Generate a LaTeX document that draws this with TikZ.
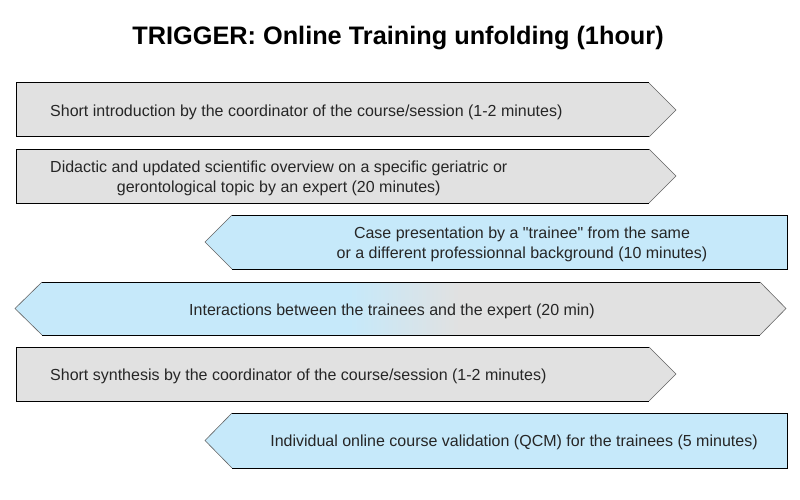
\documentclass[tikz,border=0pt]{standalone}
\usepackage{fontspec}
\setmainfont{Liberation Sans}[Ligatures=TeXOff]
\definecolor{boxgray}{RGB}{225,225,225}
\definecolor{boxblue}{RGB}{198,233,250}
\definecolor{tipgray}{RGB}{100,100,100}
\newcommand{\rightbox}[2]{%
  \fill[boxgray] (16,#1) -- (649,#1) -- (676,{(#1+#2)/2}) -- (649,#2) -- (16,#2) -- cycle;
  \draw[edge] (649,#1) -- (16,#1) -- (16,#2) -- (649,#2);
  \draw[tipedge] (649,#1) -- (676,{(#1+#2)/2}) -- (649,#2);}
\newcommand{\leftbox}[2]{%
  \fill[boxblue] (787,#1) -- (232,#1) -- (205,{(#1+#2)/2}) -- (232,#2) -- (787,#2) -- cycle;
  \draw[edge] (232,#1) -- (787,#1) -- (787,#2) -- (232,#2);
  \draw[tipedge] (232,#1) -- (205,{(#1+#2)/2}) -- (232,#2);}
\begin{document}
\begin{tikzpicture}[x=1pt,y=-1pt,
  edge/.style={black,line width=1pt},
  tipedge/.style={tipgray,line width=0.6pt},
  txt/.style={font=\fontsize{16}{20}\selectfont,inner sep=0pt,align=center,text=black!85}]
\useasboundingbox[fill=white] (0,0) rectangle (800,500);

\node[font=\fontsize{25.3}{30}\selectfont\bfseries] (title) at (398,38) {TRIGGER: Online Training unfolding (1hour)};

% row 1
\rightbox{83}{137}
\node[txt,anchor=west] (r1) at (50,112) {Short introduction by the coordinator of the course/session (1-2 minutes)};
% row 2
\rightbox{149}{203}
\node[txt,anchor=west] (r2) at (50,178) {Didactic and updated scientific overview on a specific geriatric or\\gerontological topic by an expert (20 minutes)};
% row 3
\leftbox{215}{269}
\node[txt] (r3) at (522,244) {Case presentation by a "trainee" from the same\\or a different professionnal background (10 minutes)};
% row 4
\begin{scope}
  \clip (15,308.5) -- (42,282) -- (760,282) -- (786,308.5) -- (760,335) -- (42,335) -- cycle;
  \fill[boxblue] (0,280) rectangle (350,337);
  \shade[left color=boxblue,right color=boxgray] (349.5,280) rectangle (460,337);
  \fill[boxgray] (459.5,280) rectangle (800,337);
\end{scope}
\draw[edge] (42,282) -- (760,282);
\draw[edge] (42,335) -- (760,335);
\draw[tipedge] (42,282) -- (15,308.5) -- (42,335);
\draw[tipedge] (760,282) -- (786,308.5) -- (760,335);
\node[txt] (r4) at (392,311) {Interactions between the trainees and the expert (20 min)};
% row 5
\rightbox{347}{401}
\node[txt,anchor=west] (r5) at (50,376) {Short synthesis by the coordinator of the course/session (1-2 minutes)};
% row 6
\leftbox{413}{468}
\node[txt] (r6) at (514,442) {Individual online course validation (QCM) for the trainees (5 minutes)};
\end{tikzpicture}
\end{document}
